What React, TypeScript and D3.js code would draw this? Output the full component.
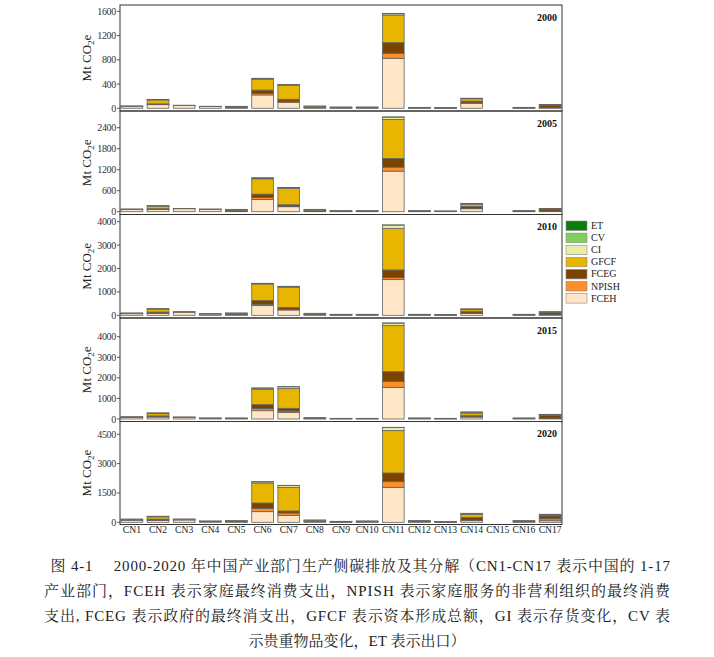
import React from 'react';
import * as d3 from 'd3';

const CATEGORIES = ['CN1','CN2','CN3','CN4','CN5','CN6','CN7','CN8','CN9','CN10','CN11','CN12','CN13','CN14','CN15','CN16','CN17'];
const COMPONENTS = ['FCEH','NPISH','FCEG','GFCF','CI','CV','ET'];
const LEGEND_ORDER = ['ET','CV','CI','GFCF','FCEG','NPISH','FCEH'];
const YEARS = ['2000','2005','2010','2015','2020'];

// 2000
const FCEH_2000  = [28, 60, 45, 28, 8, 220, 99, 8, 5, 5, 825, 5, 4, 83, 0, 4, 8];
const NPISH_2000 = [0, 3, 0, 0, 0, 25, 10, 0, 0, 0, 83, 0, 0, 5, 0, 0, 2];
const FCEG_2000  = [3, 10, 0, 0, 10, 55, 40, 8, 5, 5, 175, 3, 2, 30, 0, 5, 40];
const GFCF_2000  = [5, 65, 3, 3, 12, 180, 230, 18, 8, 8, 457, 5, 3, 40, 0, 5, 10];
const CI_2000    = [2, 8, 2, 2, 2, 12, 12, 3, 2, 2, 22, 2, 1, 6, 0, 1, 2];
const CV_2000    = [0, 1, 0, 0, 0, 3, 3, 0, 0, 0, 5, 0, 0, 1, 0, 0, 0];
const ET_2000    = [0, 0, 0, 0, 0, 0, 0, 0, 0, 0, 0, 0, 0, 0, 0, 0, 0];

// 2005
const FCEH_2005  = [60, 60, 85, 65, 15, 351, 143, 15, 8, 8, 1159, 8, 8, 85, 0, 8, 10];
const NPISH_2005 = [0, 5, 0, 0, 0, 57, 15, 0, 0, 0, 114, 0, 0, 8, 0, 0, 5];
const FCEG_2005  = [5, 20, 0, 0, 20, 95, 40, 15, 8, 8, 247, 8, 4, 60, 0, 10, 60];
const GFCF_2005  = [8, 75, 5, 6, 27, 437, 470, 32, 10, 10, 1112, 10, 5, 60, 0, 8, 15];
const CI_2005    = [3, 10, 5, 5, 5, 24, 20, 5, 2, 2, 68, 2, 2, 22, 0, 2, 5];
const CV_2005    = [0, 1, 0, 0, 0, 5, 5, 0, 0, 0, 8, 0, 0, 3, 0, 0, 0];
const ET_2005    = [0, 0, 0, 0, 0, 0, 0, 0, 0, 0, 0, 0, 0, 0, 0, 0, 0];

// 2010
const FCEH_2010  = [70, 85, 135, 55, 25, 413, 228, 20, 12, 12, 1525, 12, 10, 85, 0, 12, 20];
const NPISH_2010 = [0, 10, 0, 0, 0, 57, 30, 0, 0, 0, 85, 0, 0, 10, 0, 0, 10];
const FCEG_2010  = [8, 45, 0, 0, 30, 157, 70, 20, 12, 12, 328, 12, 6, 61, 0, 12, 90];
const GFCF_2010  = [12, 120, 10, 8, 35, 712, 870, 36, 15, 15, 1767, 15, 9, 85, 0, 15, 25];
const CI_2010    = [10, 24, 12, 8, 10, 25, 37, 10, 4, 4, 150, 4, 3, 27, 0, 4, 12];
const CV_2010    = [0, 1, 0, 0, 0, 4, 5, 0, 0, 0, 7, 0, 0, 3, 0, 0, 0];
const ET_2010    = [0, 0, 0, 0, 0, 0, 0, 0, 0, 0, 0, 0, 0, 0, 0, 0, 0];

// 2015
const FCEH_2015  = [70, 97, 70, 35, 15, 405, 324, 15, 10, 10, 1539, 15, 10, 97, 0, 15, 25];
const NPISH_2015 = [0, 10, 0, 0, 0, 97, 65, 0, 0, 0, 292, 0, 0, 10, 0, 0, 15];
const FCEG_2015  = [15, 45, 10, 0, 12, 195, 130, 15, 8, 8, 470, 12, 8, 55, 0, 12, 140];
const GFCF_2015  = [15, 110, 10, 8, 17, 760, 956, 28, 10, 10, 2236, 17, 10, 130, 0, 17, 32];
const CI_2015    = [13, 29, 7, 6, 5, 45, 90, 7, 4, 4, 120, 5, 4, 45, 0, 5, 15];
const CV_2015    = [0, 1, 0, 0, 0, 5, 7, 0, 0, 0, 10, 0, 0, 3, 0, 0, 0];
const ET_2015    = [0, 0, 0, 0, 0, 0, 0, 0, 0, 0, 0, 0, 0, 0, 0, 0, 0];

// 2020
const FCEH_2020  = [110, 102, 120, 30, 25, 545, 358, 30, 15, 20, 1789, 20, 10, 85, 0, 20, 80];
const NPISH_2020 = [0, 10, 0, 0, 0, 170, 119, 0, 0, 0, 290, 0, 0, 20, 0, 0, 100];
const FCEG_2020  = [15, 50, 20, 12, 25, 273, 102, 25, 12, 15, 443, 20, 8, 150, 0, 30, 150];
const GFCF_2020  = [25, 120, 15, 18, 25, 1022, 1210, 50, 17, 23, 2164, 38, 12, 140, 0, 25, 50];
const CI_2020    = [20, 24, 15, 8, 10, 62, 95, 14, 7, 10, 160, 7, 4, 60, 0, 10, 29];
const CV_2020    = [0, 1, 0, 0, 0, 6, 7, 0, 0, 0, 10, 0, 0, 5, 0, 0, 0];
const ET_2020    = [0, 0, 0, 0, 0, 0, 0, 0, 0, 0, 0, 0, 0, 0, 0, 0, 0];

// y-axis ticks and plotted value range per panel
const TICKS_2000 = [0, 400, 800, 1200, 1600];
const TICKS_2005 = [0, 600, 1200, 1800, 2400];
const TICKS_2010 = [0, 1000, 2000, 3000, 4000];
const TICKS_2015 = [0, 1000, 2000, 3000, 4000];
const TICKS_2020 = [0, 1500, 3000, 4500];
const RANGE_2000 = [-45, 1705];
const RANGE_2005 = [-80, 2877];
const RANGE_2010 = [-115, 4308];
const RANGE_2015 = [-121, 4908];
const RANGE_2020 = [-112, 5153];

const CAPTION = [
  '图 4-1\u2003 2000-2020 年中国产业部门生产侧碳排放及其分解（CN1-CN17 表示中国的 1-17',
  '产业部门，FCEH 表示家庭最终消费支出，NPISH 表示家庭服务的非营利组织的最终消费',
  '支出, FCEG 表示政府的最终消支出，GFCF 表示资本形成总额，GI 表示存货变化，CV 表',
  '示贵重物品变化，ET 表示出口）',
];

const COLORS: Record<string, string> = {
  ET: '#0a7d0a',
  CV: '#80d05c',
  CI: '#e8eea6',
  GFCF: '#e8b600',
  FCEG: '#7a4300',
  NPISH: '#fd8e2e',
  FCEH: '#fee6c6',
};

const SERIES: Record<string, Record<string, number[]>> = {
  '2000': { FCEH: FCEH_2000, NPISH: NPISH_2000, FCEG: FCEG_2000, GFCF: GFCF_2000, CI: CI_2000, CV: CV_2000, ET: ET_2000 },
  '2005': { FCEH: FCEH_2005, NPISH: NPISH_2005, FCEG: FCEG_2005, GFCF: GFCF_2005, CI: CI_2005, CV: CV_2005, ET: ET_2005 },
  '2010': { FCEH: FCEH_2010, NPISH: NPISH_2010, FCEG: FCEG_2010, GFCF: GFCF_2010, CI: CI_2010, CV: CV_2010, ET: ET_2010 },
  '2015': { FCEH: FCEH_2015, NPISH: NPISH_2015, FCEG: FCEG_2015, GFCF: GFCF_2015, CI: CI_2015, CV: CV_2015, ET: ET_2015 },
  '2020': { FCEH: FCEH_2020, NPISH: NPISH_2020, FCEG: FCEG_2020, GFCF: GFCF_2020, CI: CI_2020, CV: CV_2020, ET: ET_2020 },
};
const TICKS: Record<string, number[]> = { '2000': TICKS_2000, '2005': TICKS_2005, '2010': TICKS_2010, '2015': TICKS_2015, '2020': TICKS_2020 };
const RANGES: Record<string, number[]> = { '2000': RANGE_2000, '2005': RANGE_2005, '2010': RANGE_2010, '2015': RANGE_2015, '2020': RANGE_2020 };

const W = 714;
const H = 657;
const PLOT_LEFT = 120;
const PLOT_RIGHT = 562;
const PANEL_EDGES = [5, 111, 214.5, 318, 421.5, 524.5];
const SERIF = '"Liberation Serif", "Times New Roman", serif';
const CAPTION_FONT = '"Liberation Serif", "Noto Serif CJK SC", "Noto Sans CJK SC", serif';

export default function App() {
  const x = d3.scaleBand<string>().domain(CATEGORIES).range([PLOT_LEFT, PLOT_RIGHT]).paddingInner(0.17).paddingOuter(0.04);

  const panels = YEARS.map((year, i) => {
    const top = PANEL_EDGES[i];
    const bottom = PANEL_EDGES[i + 1];
    const y = d3.scaleLinear().domain(RANGES[year]).range([bottom, top]);
    const rows = CATEGORIES.map((cat, j) => {
      const r: any = { cat };
      COMPONENTS.forEach((k) => { r[k] = SERIES[year][k][j]; });
      return r;
    });
    const stacked = d3.stack<any>().keys(COMPONENTS)(rows);
    const cy = (top + bottom) / 2;
    return (
      <g key={year}>
        <defs>
          <clipPath id={`clip-${year}`}>
            <rect x={PLOT_LEFT} y={top} width={PLOT_RIGHT - PLOT_LEFT} height={bottom - top} />
          </clipPath>
        </defs>
        <g clipPath={`url(#clip-${year})`}>
          {stacked.map((s) => (
            <g key={s.key} fill={COLORS[s.key]}>
              {s.map((d, j) => {
                const h = y(d[0]) - y(d[1]);
                if (h <= 0) return null;
                return (
                  <rect key={j} x={x(CATEGORIES[j])} y={y(d[1])} width={x.bandwidth()} height={h}
                    stroke="#626262" strokeWidth={0.8} />
                );
              })}
            </g>
          ))}
        </g>
        <rect x={PLOT_LEFT} y={top} width={PLOT_RIGHT - PLOT_LEFT} height={bottom - top} fill="none" stroke="#333" strokeWidth={1} />
        {TICKS[year].map((t) => (
          <g key={t}>
            <line x1={PLOT_LEFT - 3} x2={PLOT_LEFT} y1={y(t)} y2={y(t)} stroke="#333" strokeWidth={0.8} />
            <text x={PLOT_LEFT - 4} y={y(t)} dy="0.35em" textAnchor="end" style={{ fontFamily: SERIF }} fontSize={10} fill="#333" letterSpacing={-0.3}>{t}</text>
          </g>
        ))}
        <text x={557} y={top + 15.5} textAnchor="end" style={{ fontFamily: SERIF }} fontSize={10} fontWeight="bold" fill="#111">{year}</text>
        <text transform={`translate(91,${cy}) rotate(-90)`} textAnchor="middle" style={{ fontFamily: SERIF }} fontSize={13} fill="#222">
          Mt CO<tspan fontSize={9} dy={3}>2</tspan><tspan dy={-3}>e</tspan>
        </text>
      </g>
    );
  });

  const lastBottom = PANEL_EDGES[PANEL_EDGES.length - 1];

  return (
    <svg width={W} height={H} style={{ position: 'absolute', left: 0, top: 0, background: '#fff' }}>
      <rect x={0} y={0} width={W} height={H} fill="#fff" />
      {panels}
      {CATEGORIES.map((c) => (
        <text key={c} x={(x(c) as number) + x.bandwidth() / 2} y={lastBottom + 8.3} textAnchor="middle" style={{ fontFamily: SERIF }} fontSize={9.6} fill="#222">{c}</text>
      ))}
      {LEGEND_ORDER.map((k, i) => (
        <g key={k} transform={`translate(566,${221 + i * 12.1})`}>
          <rect x={0} y={0} width={21} height={9.5} fill={COLORS[k]} stroke="#8a8a8a" strokeWidth={0.6} />
          <text x={25} y={8} style={{ fontFamily: SERIF }} fontSize={10} fill="#222">{k}</text>
        </g>
      ))}
      {CAPTION.map((line, i) => {
        const yy = 571 + i * 25;
        const common = { style: { fontFamily: CAPTION_FONT }, fontSize: 15, fill: '#222' };
        if (i === 0) return <text key={i} x={50.5} y={yy} textLength={619.5} lengthAdjust="spacing" {...common}>{line}</text>;
        if (i < 3) return <text key={i} x={44} y={yy} textLength={626} lengthAdjust="spacing" {...common}>{line}</text>;
        return <text key={i} x={357} y={yy} textAnchor="middle" {...common}>{line}</text>;
      })}
    </svg>
  );
}
